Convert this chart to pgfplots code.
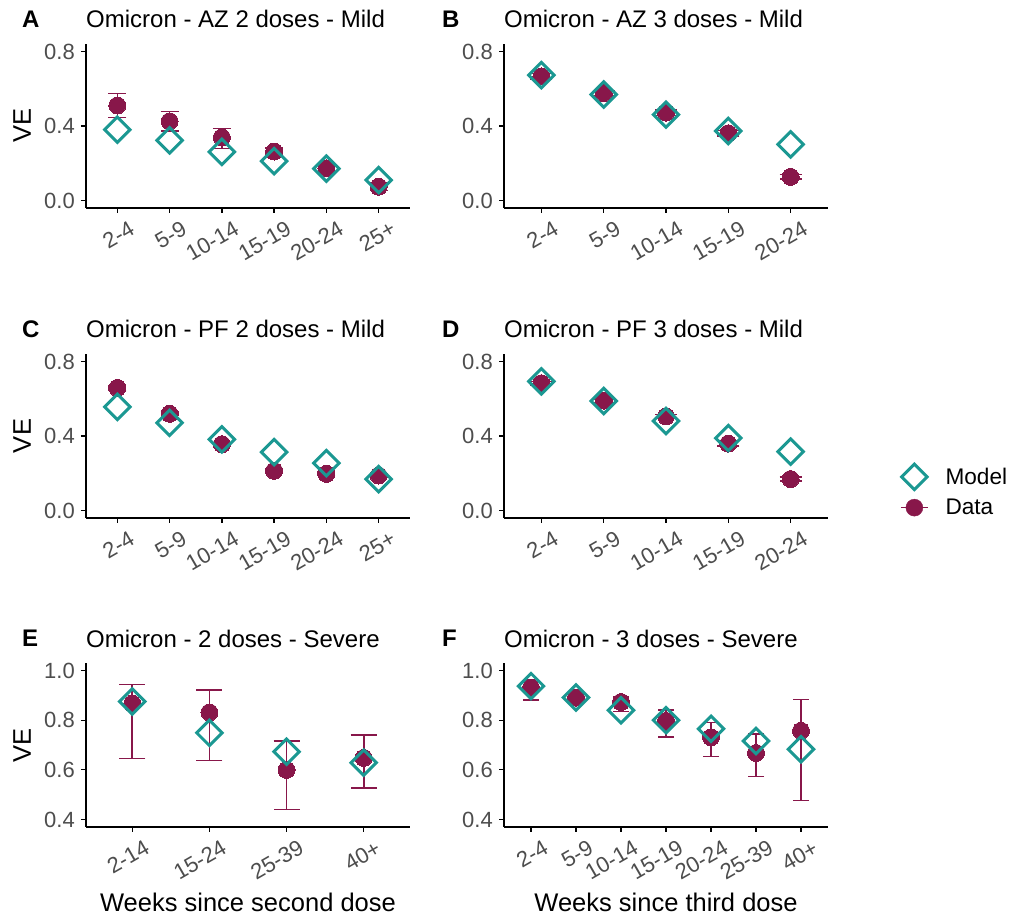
\documentclass[border=0pt]{standalone}
\usepackage{fontspec}
\setmainfont{Liberation Sans}
\usepackage{pgfplots}
\pgfplotsset{compat=1.18}

\definecolor{datacol}{RGB}{136,23,74}
\definecolor{modcol}{RGB}{27,152,146}
\definecolor{tickgrey}{RGB}{77,77,77}

\pgfplotsset{
  panel/.style={
    scale only axis, width=324pt, height=164pt, anchor=south west,
    axis lines=left, axis line style={-, line width=1.4pt, black},
    tick align=outside, major tick length=5pt,
    tick style={line width=1.3pt, black},
    xmin=0.4,
    ticklabel style={font=\fontsize{22}{24}\selectfont, color=tickgrey},
    /pgf/number format/assume math mode=true,
    yticklabel style={inner sep=0pt, xshift=-6pt,
      /pgf/number format/.cd, fixed, fixed zerofill, precision=1},
    xticklabel style={xshift=11pt, yshift=-7pt, rotate=30, anchor=north east, inner sep=0pt},
    every axis title shift=0pt,
    title style={at={(axis description cs:0,1)}, anchor=base west, inner sep=0pt,
      yshift=16pt, font=\fontsize{24}{28}\selectfont},
    label style={font=\fontsize{25.5}{30}\selectfont},
    ylabel style={at={(axis description cs:-0.1975,0.5)}, anchor=center},
    xlabel style={at={(axis description cs:0.5,0)}, anchor=base, yshift=-85pt},
  },
  mild/.style={ymin=-0.04, ymax=0.84, ytick={0,0.4,0.8}},
  severe/.style={ymin=0.37, ymax=1.03, ytick={0.4,0.6,0.8,1.0}},
  datapl/.style={only marks, mark=*, mark size=8.5pt, color=datacol,
    mark options={fill=datacol, draw=datacol, line width=0pt},
    error bars/y dir=both, error bars/y explicit,
    error bars/error mark=|,
    error bars/error bar style={line width=1.6pt, datacol},
    error bars/error mark options={line width=1.6pt, datacol, mark size=#1}},
  modpl/.style={only marks, mark=square, mark size=9pt, color=modcol,
    mark options={rotate=45, line width=3pt, draw=modcol, fill=none}},
}

\begin{document}
\begin{tikzpicture}
\path[use as bounding box] (0,0) rectangle (1014pt,920pt);

% A
\begin{axis}[panel, mild, at={(86pt,712pt)}, xmax=6.6,
  xtick={1,...,6}, xticklabels={2-4,5-9,10-14,15-19,20-24,25+},
  title={Omicron - AZ 2 doses - Mild}, ylabel={VE}]
\addplot[datapl=9pt] table[x=x, y=y, y error plus=ep, y error minus=em] {
x y ep em
1 0.510 0.065 0.065
2 0.425 0.053 0.053
3 0.339 0.047 0.060
4 0.263 0.020 0.020
5 0.173 0.020 0.020
6 0.074 0.020 0.020
};
\addplot[modpl] table {
x y
1 0.380
2 0.323
3 0.261
4 0.211
5 0.171
6 0.110
};
\end{axis}

% B
\begin{axis}[panel, mild, at={(504pt,712pt)}, xmax=5.6,
  xtick={1,...,5}, xticklabels={2-4,5-9,10-14,15-19,20-24},
  title={Omicron - AZ 3 doses - Mild}]
\addplot[datapl=11pt] table[x=x, y=y, y error plus=ep, y error minus=em] {
x y ep em
1 0.666 0.015 0.015
2 0.576 0.015 0.015
3 0.472 0.015 0.015
4 0.361 0.015 0.015
5 0.127 0.012 0.012
};
\addplot[modpl] table {
x y
1 0.673
2 0.569
3 0.461
4 0.373
5 0.301
};
\end{axis}

% C
\begin{axis}[panel, mild, at={(86pt,402pt)}, xmax=6.6,
  xtick={1,...,6}, xticklabels={2-4,5-9,10-14,15-19,20-24,25+},
  title={Omicron - PF 2 doses - Mild}, ylabel={VE}]
\addplot[datapl=9pt] table[x=x, y=y, y error plus=ep, y error minus=em] {
x y ep em
1 0.658 0.010 0.010
2 0.519 0.010 0.010
3 0.356 0.010 0.010
4 0.213 0.010 0.010
5 0.197 0.010 0.010
6 0.188 0.010 0.010
};
\addplot[modpl] table {
x y
1 0.556
2 0.471
3 0.382
4 0.313
5 0.254
6 0.169
};
\end{axis}

% D
\begin{axis}[panel, mild, at={(504pt,402pt)}, xmax=5.6,
  xtick={1,...,5}, xticklabels={2-4,5-9,10-14,15-19,20-24},
  title={Omicron - PF 3 doses - Mild},
  legend style={at={(axis description cs:1.222,0.168)}, anchor=west,
    draw=none, fill=none, inner sep=0pt, row sep=6pt,
    font=\fontsize{22.6}{26}\selectfont,
    nodes={font=\fontsize{22.6}{26}\selectfont}},
  legend cell align=left]
\addlegendimage{legend image code/.code={
  \draw[modcol, line width=3pt, line join=miter] (2.3pt,0pt) -- (15pt,12.7pt) -- (27.7pt,0pt) -- (15pt,-12.7pt) -- cycle;
  \path (44pt,0pt);}}
\addlegendentry{Model}
\addlegendimage{legend image code/.code={
  \draw[datacol, line width=1.5pt] (1.5pt,0pt) -- (28.5pt,0pt);
  \fill[datacol] (15pt,0pt) circle (8.5pt);
  \path (44pt,0pt);}}
\addlegendentry{Data}
\addplot[forget plot, datapl=11pt] table[x=x, y=y, y error plus=ep, y error minus=em] {
x y ep em
1 0.683 0.010 0.010
2 0.590 0.010 0.010
3 0.505 0.010 0.010
4 0.359 0.012 0.012
5 0.169 0.012 0.012
};
\addplot[forget plot, modpl] table {
x y
1 0.693
2 0.588
3 0.480
4 0.389
5 0.316
};
\end{axis}

% E
\begin{axis}[panel, severe, at={(86pt,93pt)}, xmax=4.6,
  xtick={1,...,4}, xticklabels={2-14,15-24,25-39,40+},
  title={Omicron - 2 doses - Severe}, ylabel={VE},
  xlabel={Weeks since second dose}]
\addplot[datapl=13pt] table[x=x, y=y, y error plus=ep, y error minus=em] {
x y ep em
1 0.867 0.077 0.222
2 0.831 0.090 0.194
3 0.600 0.115 0.159
4 0.648 0.093 0.121
};
\addplot[modpl] table {
x y
1 0.875
2 0.749
3 0.673
4 0.629
};
\end{axis}

% F
\begin{axis}[panel, severe, at={(504pt,93pt)}, xmax=7.6,
  xtick={1,...,7}, xticklabels={2-4,5-9,10-14,15-19,20-24,25-39,40+},
  title={Omicron - 3 doses - Severe},
  xlabel={Weeks since third dose}]
\addplot[datapl=8pt] table[x=x, y=y, y error plus=ep, y error minus=em] {
x y ep em
1 0.931 0.025 0.051
2 0.891 0.020 0.020
3 0.873 0.020 0.038
4 0.797 0.045 0.064
5 0.731 0.060 0.078
6 0.668 0.076 0.095
7 0.757 0.126 0.280
};
\addplot[modpl] table {
x y
1 0.937
2 0.891
3 0.840
4 0.800
5 0.765
6 0.716
7 0.683
};
\end{axis}

% panel letters
\begin{scope}[every node/.style={anchor=base west, inner sep=0pt, font=\fontsize{24}{28}\selectfont\bfseries}]
\node at (22pt,892pt) {A};
\node at (442pt,892pt) {B};
\node at (22pt,582pt) {C};
\node at (442pt,582pt) {D};
\node at (22pt,273pt) {E};
\node at (442pt,273pt) {F};
\end{scope}
\end{tikzpicture}
\end{document}
